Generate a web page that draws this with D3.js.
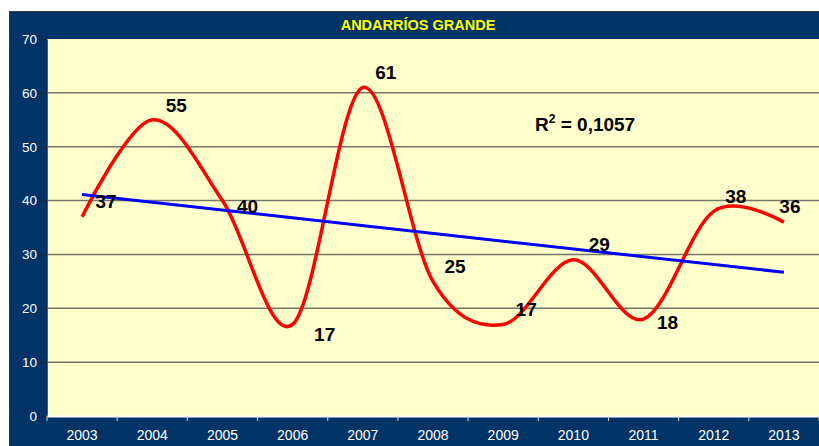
<!DOCTYPE html>
<html>
<head>
<meta charset="utf-8">
<script src="https://cdn.jsdelivr.net/npm/d3@7"></script>
<style>
  html, body { margin: 0; padding: 0; background: #ffffff; }
  svg { display: block; }
</style>
</head>
<body>
<svg id="chart" width="819" height="446"></svg>
<script>
// ---- data ----
const title = "ANDARRÍOS GRANDE";
const years = ["2003","2004","2005","2006","2007","2008","2009","2010","2011","2012","2013"];
const counts = [37, 55, 40, 17, 61, 25, 17, 29, 18, 38, 36];
const yTicks = [0, 10, 20, 30, 40, 50, 60, 70];
const r2Text = "0,1057";

// label nudges (px), purely presentational
const labelDx = [24, 24, 25, 32, 23, 22, 23, 26, 24, 22, 6];
const labelDy = [-15, -14, 6, 10, -15, -15, -15, -15, 3, -15, -16];

const W = 819, H = 446;
const plot = { left: 47, right: 819, top: 39, bottom: 416 };

const svg = d3.select("#chart");

// frame
svg.append("rect")
  .attr("x", 9.5).attr("y", 11.5)
  .attr("width", W).attr("height", H)
  .attr("fill", "#003366").attr("stroke", "#3a3a3a").attr("stroke-width", 1);

// title
svg.append("text")
  .attr("x", 418).attr("y", 29.5)
  .attr("text-anchor", "middle")
  .attr("font-family", "Liberation Sans, Arial, sans-serif")
  .attr("font-weight", "bold")
  .attr("font-size", 14.5)
  .attr("fill", "#ffff00")
  .text(title);

const x = d3.scaleBand().domain(years).range([plot.left, plot.right]);
const y = d3.scaleLinear().domain([0, 70]).range([plot.bottom, plot.top]);
const cx = d => x(d) + x.bandwidth() / 2;

// plot background
svg.append("rect")
  .attr("x", plot.left).attr("y", plot.top)
  .attr("width", plot.right - plot.left).attr("height", plot.bottom - plot.top)
  .attr("fill", "#ffffcc");

// gridlines
svg.append("g").selectAll("line")
  .data(yTicks.filter(t => t > 0 && t < 70))
  .join("line")
  .attr("x1", plot.left).attr("x2", plot.right)
  .attr("y1", d => y(d)).attr("y2", d => y(d))
  .attr("stroke", "#75756a").attr("stroke-width", 1.5);

// y axis
const yAxis = svg.append("g")
  .attr("transform", `translate(${plot.left},0)`)
  .call(d3.axisLeft(y).tickValues(yTicks).tickSize(5).tickPadding(5));
yAxis.select(".domain").attr("stroke", "#5a5a50").attr("stroke-width", 1);
yAxis.selectAll(".tick line").attr("stroke", "#222222");
yAxis.selectAll("text")
  .attr("fill", "#ffffff")
  .attr("font-family", "Liberation Sans, Arial, sans-serif")
  .attr("font-size", 13.5);

// x axis
const xAxis = svg.append("g")
  .attr("transform", `translate(0,${plot.bottom})`)
  .call(d3.axisBottom(x).tickSize(0).tickPadding(14));
xAxis.select(".domain").attr("stroke", "#ffffff").attr("stroke-width", 2);
xAxis.selectAll("text")
  .attr("fill", "#ffffff")
  .attr("font-family", "Liberation Sans, Arial, sans-serif")
  .attr("font-size", 14);
// tick marks at category boundaries
const bounds = years.map(d => x(d)).concat([plot.right]);
svg.append("g").selectAll("line")
  .data(bounds)
  .join("line")
  .attr("x1", d => d).attr("x2", d => d)
  .attr("y1", plot.bottom).attr("y2", plot.bottom + 5)
  .attr("stroke", "#d8d8d8").attr("stroke-width", 1);

// smoothed series
const pts = years.map((yr, i) => [cx(yr), y(counts[i])]);
svg.append("path")
  .attr("d", d3.line().curve(d3.curveCardinal.tension(0))(pts))
  .attr("fill", "none")
  .attr("stroke", "#ff0000")
  .attr("stroke-width", 3.5)
  .attr("stroke-linejoin", "round");

// linear trend (least squares over the series)
const n = counts.length;
const xs = d3.range(n);
const mx = d3.mean(xs), my = d3.mean(counts);
const sxy = d3.sum(xs, i => (i - mx) * (counts[i] - my));
const sxx = d3.sum(xs, i => (i - mx) ** 2);
const slope = sxy / sxx, intercept = my - slope * mx;
svg.append("line")
  .attr("x1", cx(years[0])).attr("y1", y(intercept))
  .attr("x2", cx(years[n - 1])).attr("y2", y(intercept + slope * (n - 1)))
  .attr("stroke", "#0000ff").attr("stroke-width", 3);

// data labels
svg.append("g").selectAll("text")
  .data(counts)
  .join("text")
  .attr("x", (d, i) => cx(years[i]) + labelDx[i])
  .attr("y", (d, i) => y(d) + labelDy[i])
  .attr("text-anchor", "middle")
  .attr("dominant-baseline", "central")
  .attr("font-family", "Liberation Sans, Arial, sans-serif")
  .attr("font-weight", "bold")
  .attr("font-size", 19)
  .attr("fill", "#000000")
  .text(d => d);

// R² annotation
const r2 = svg.append("text")
  .attr("x", 535).attr("y", 131)
  .attr("font-family", "Liberation Sans, Arial, sans-serif")
  .attr("font-weight", "bold")
  .attr("font-size", 19)
  .attr("fill", "#000000");
r2.append("tspan").text("R");
r2.append("tspan").attr("dy", -8).attr("font-size", 12).text("2");
r2.append("tspan").attr("dy", 8).text(" = " + r2Text);
</script>
</body>
</html>
